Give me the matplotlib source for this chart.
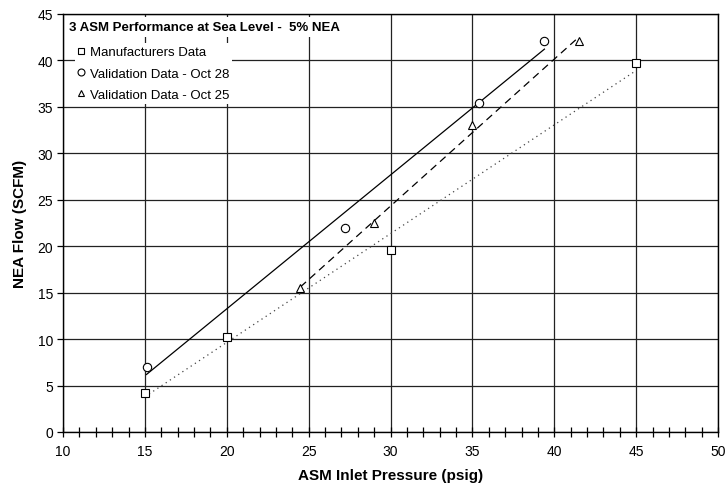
import numpy as np
import matplotlib
matplotlib.use("Agg")
import matplotlib.pyplot as plt
from matplotlib.lines import Line2D
from matplotlib.ticker import MultipleLocator

plt.rcParams['font.family'] = ['Liberation Sans', 'DejaVu Sans']

# Data
mfr_x = [15, 20, 30, 45]
mfr_y = [4.2, 10.2, 19.6, 39.7]
oct28_x = [15.1, 27.2, 35.4, 39.4]
oct28_y = [7.05, 21.95, 35.4, 42.1]
oct25_x = [24.5, 29.0, 35.0, 41.5]
oct25_y = [15.5, 22.5, 33.0, 42.1]

labels = ["Manufacturers Data", "Validation Data - Oct 28", "Validation Data - Oct 25"]
title = "3 ASM Performance at Sea Level -  5% NEA"

fig = plt.figure(figsize=(7.28, 4.89), dpi=100)
ax = fig.add_axes([63/728, 1-433/489, (718-63)/728, (433-15)/489])

series = [
    (mfr_x, mfr_y, 's', (0, (1, 3)), '#444444'),
    (oct28_x, oct28_y, 'o', '-', 'black'),
    (oct25_x, oct25_y, '^', (0, (6, 4)), 'black'),
]

for x, y, m, ls, lc in series:
    x = np.asarray(x); y = np.asarray(y)
    k, b = np.polyfit(x, y, 1)
    xs = np.array([x.min(), x.max()])
    ax.plot(xs, k*xs + b, linestyle=ls, color=lc, lw=0.9, zorder=2)
    ax.plot(x, y, linestyle='none', marker=m, markersize=6, markerfacecolor='white',
            markeredgecolor='black', markeredgewidth=0.8, zorder=3)

ax.set_xlim(10, 50)
ax.set_ylim(0, 45)
ax.xaxis.set_major_locator(MultipleLocator(5))
ax.xaxis.set_minor_locator(MultipleLocator(1))
ax.yaxis.set_major_locator(MultipleLocator(5))
ax.grid(True, which='major', color='#222222', lw=0.9, zorder=0)
ax.set_axisbelow(True)
ax.tick_params(axis='x', which='both', direction='inout', length=7, width=0.9, labelsize=10, pad=5)
ax.tick_params(axis='y', which='major', direction='out', length=4, width=0.9, labelsize=10, pad=3)
for s in ax.spines.values():
    s.set_linewidth(1.0)
    s.set_color('black')

ax.set_xlabel("ASM Inlet Pressure (psig)", fontsize=11, fontweight='bold', labelpad=7)
ax.set_ylabel("NEA Flow (SCFM)", fontsize=11, fontweight='bold', labelpad=8)

# Title box
ax.text(0.009, 0.983, title, transform=ax.transAxes, fontsize=9.5, fontweight='bold',
        va='top', ha='left', zorder=6,
        bbox=dict(facecolor='white', edgecolor='none', pad=3))

handles = [Line2D([], [], linestyle='none', marker=m, markersize=5, markerfacecolor='white',
                  markeredgecolor='black', markeredgewidth=0.8) for m in ['s', 'o', '^']]
leg = ax.legend(handles, labels, loc='upper left', bbox_to_anchor=(0.018, 0.93),
                fontsize=9.5, frameon=True, fancybox=False, framealpha=1, edgecolor='none',
                handlelength=0.6, handletextpad=0.35, borderpad=0.2, labelspacing=0.7,
                borderaxespad=0)
leg.set_zorder(5)

fig.savefig("out.png", dpi=100)
